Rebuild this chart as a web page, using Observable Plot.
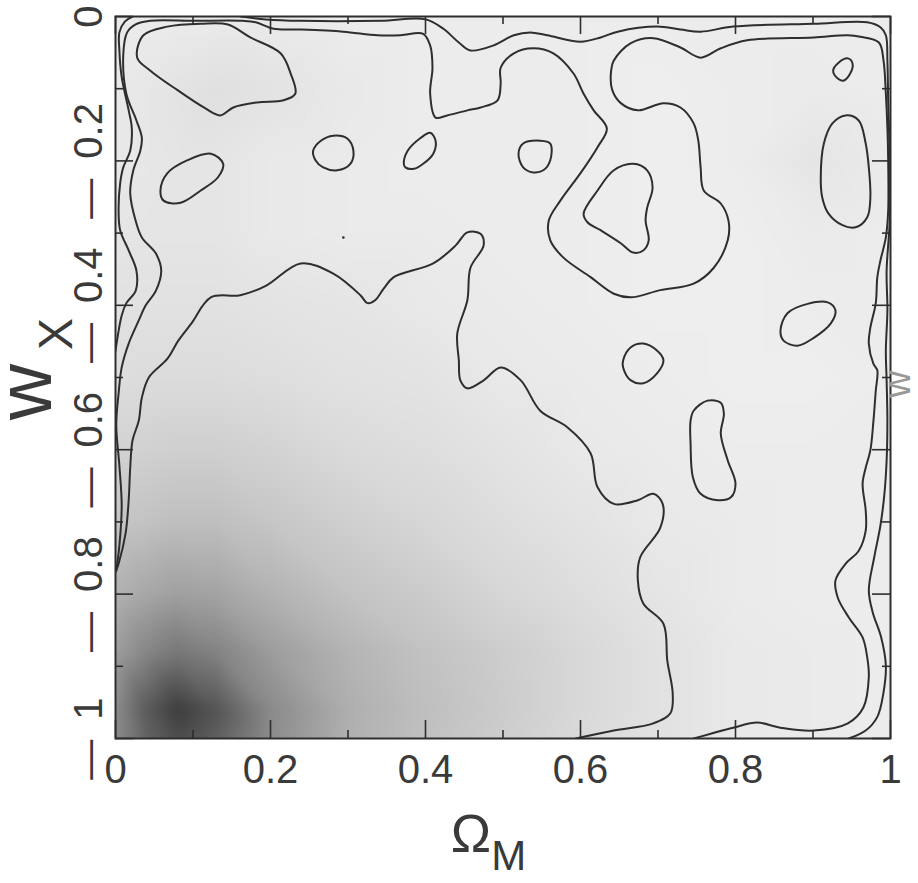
<!DOCTYPE html>
<html><head><meta charset="utf-8">
<script src="https://cdn.jsdelivr.net/npm/d3@7"></script>
<script src="https://cdn.jsdelivr.net/npm/@observablehq/plot@0.6"></script>
<style>html,body{margin:0;padding:0;background:#fff;}</style>
</head><body><div id="chart"></div>
<script>
// ---- data ----
const omegaGrid = [0, 0.04, 0.08, 0.13, 0.2, 0.3, 0.4, 0.5, 0.6, 0.7, 0.8, 0.9, 1];
const wGrid = [0, -0.1, -0.2, -0.3, -0.4, -0.5, -0.6, -0.7, -0.8, -0.88, -0.96, -1];
const density = [
  [.04,.03,.03,.03,.03,.02,.02,.02,.02,.02,.02,.02,.02],
  [.04,.05,.07,.09,.07,.04,.02,.02,.02,.01,.02,.03,.02],
  [.04,.05,.06,.06,.04,.03,.02,.02,.02,.01,.02,.06,.03],
  [.06,.06,.06,.06,.04,.03,.03,.02,.02,.01,.01,.03,.02],
  [.08,.08,.08,.08,.07,.06,.04,.03,.02,.01,.01,.02,.02],
  [.10,.11,.11,.11,.10,.08,.07,.04,.03,.02,.01,.01,.02],
  [.16,.17,.18,.18,.16,.12,.10,.07,.04,.03,.02,.02,.02],
  [.23,.25,.27,.27,.23,.18,.14,.10,.07,.04,.03,.02,.02],
  [.34,.40,.44,.42,.34,.25,.20,.14,.10,.06,.03,.02,.02],
  [.45,.58,.66,.60,.46,.33,.25,.19,.13,.08,.04,.03,.02],
  [.55,.82,.98,.85,.56,.36,.27,.20,.13,.08,.04,.03,.02],
  [.55,.78,.90,.80,.55,.35,.26,.19,.12,.08,.04,.03,.02]
];
const xMajor = [0, 0.2, 0.4, 0.6, 0.8, 1];
const xMinor = [0.1, 0.3, 0.5, 0.7, 0.9];
const yMajor = [0, -0.2, -0.4, -0.6, -0.8, -1];
const yMinor = [-0.1, -0.3, -0.5, -0.7, -0.9];
const xTickLabels = ["0", "0.2", "0.4", "0.6", "0.8", "1"];
const yTickLabels = ["0", "—\u20020.2", "—\u20020.4", "—\u20020.6", "—\u20020.8", "—\u20021"];

const innerContour = [[0,-0.770],[0.004,-0.758],[0.013,-0.716],[0.017,-0.670],[0.019,-0.625],[0.022,-0.587],[0.030,-0.560],[0.034,-0.528],[0.043,-0.500],[0.067,-0.474],[0.081,-0.449],[0.098,-0.425],[0.123,-0.389],[0.161,-0.386],[0.194,-0.373],[0.239,-0.342],[0.281,-0.356],[0.316,-0.386],[0.325,-0.397],[0.335,-0.393],[0.346,-0.377],[0.359,-0.361],[0.410,-0.342],[0.439,-0.317],[0.454,-0.299],[0.471,-0.301],[0.475,-0.317],[0.458,-0.348],[0.454,-0.393],[0.441,-0.439],[0.443,-0.476],[0.445,-0.504],[0.454,-0.515],[0.475,-0.504],[0.497,-0.486],[0.523,-0.504],[0.548,-0.546],[0.583,-0.569],[0.613,-0.605],[0.622,-0.652],[0.643,-0.675],[0.674,-0.670],[0.694,-0.661],[0.706,-0.675],[0.703,-0.708],[0.677,-0.749],[0.674,-0.781],[0.681,-0.813],[0.707,-0.841],[0.712,-0.892],[0.719,-0.938],[0.716,-0.965],[0.694,-0.979],[0.643,-0.989],[0.594,-1.0]];

const middleContour = [[0.746,-1.0],[0.797,-0.985],[0.828,-0.978],[0.858,-0.985],[0.901,-0.989],[0.945,-0.979],[0.965,-0.957],[0.972,-0.915],[0.970,-0.888],[0.964,-0.860],[0.946,-0.832],[0.932,-0.805],[0.929,-0.781],[0.942,-0.758],[0.959,-0.740],[0.968,-0.712],[0.968,-0.684],[0.964,-0.647],[0.968,-0.625],[0.974,-0.601],[0.978,-0.560],[0.981,-0.518],[0.983,-0.490],[0.978,-0.481],[0.972,-0.453],[0.974,-0.431],[0.981,-0.397],[0.983,-0.361],[0.987,-0.338],[0.994,-0.306],[0.997,-0.269],[0.997,-0.199],[0.996,-0.154],[0.994,-0.107],[0.991,-0.061],[0.985,-0.036],[0.961,-0.028],[0.945,-0.026],[0.901,-0.029],[0.815,-0.033],[0.781,-0.044],[0.755,-0.057],[0.729,-0.043],[0.694,-0.030],[0.665,-0.037],[0.643,-0.061],[0.639,-0.082],[0.641,-0.102],[0.652,-0.120],[0.674,-0.130],[0.707,-0.120],[0.729,-0.126],[0.746,-0.148],[0.752,-0.172],[0.755,-0.209],[0.759,-0.241],[0.781,-0.259],[0.791,-0.283],[0.790,-0.310],[0.772,-0.348],[0.746,-0.370],[0.703,-0.379],[0.665,-0.389],[0.643,-0.384],[0.613,-0.361],[0.578,-0.334],[0.561,-0.310],[0.559,-0.283],[0.574,-0.255],[0.600,-0.217],[0.622,-0.181],[0.634,-0.155],[0.617,-0.130],[0.604,-0.107],[0.591,-0.079],[0.565,-0.051],[0.539,-0.044],[0.514,-0.051],[0.497,-0.071],[0.497,-0.093],[0.493,-0.116],[0.471,-0.126],[0.454,-0.130],[0.428,-0.137],[0.413,-0.140],[0.406,-0.107],[0.409,-0.071],[0.406,-0.040],[0.397,-0.024],[0.368,-0.026],[0.338,-0.026],[0.294,-0.021],[0.239,-0.018],[0.204,-0.017],[0.181,-0.008],[0.165,-0.006],[0.101,-0.006],[0.045,-0.006],[0.026,-0.011],[0.015,-0.022],[0.010,-0.054],[0.014,-0.107],[0.027,-0.144],[0.034,-0.168],[0.032,-0.186],[0.023,-0.213],[0.019,-0.245],[0.026,-0.283],[0.034,-0.306],[0.052,-0.328],[0.059,-0.352],[0.052,-0.380],[0.039,-0.400],[0.030,-0.421],[0.017,-0.453],[0.008,-0.486],[0.004,-0.522],[0.001,-0.566],[0.005,-0.622],[0.008,-0.677],[0.005,-0.733],[0.001,-0.767]];

const outerContour = [[0.161,0],[0.194,-0.004],[0.239,-0.006],[0.342,-0.006],[0.400,-0.004],[0.423,-0.017],[0.443,-0.036],[0.458,-0.047],[0.488,-0.040],[0.514,-0.026],[0.535,-0.022],[0.557,-0.026],[0.600,-0.035],[0.626,-0.029],[0.648,-0.021],[0.699,-0.014],[0.729,-0.018],[0.755,-0.021],[0.797,-0.014],[0.901,-0.010],[0.970,-0.008],[0.987,-0.015],[0.994,-0.026],[0.996,-0.061],[0.997,-0.116],[0.999,-0.199],[0.999,-0.283],[0.995,-0.352],[0.996,-0.407],[0.994,-0.463],[0.995,-0.504],[0.996,-0.560],[0.995,-0.615],[0.992,-0.663],[0.987,-0.705],[0.979,-0.749],[0.972,-0.795],[0.977,-0.825],[0.988,-0.860],[0.994,-0.899],[0.991,-0.936],[0.983,-0.970],[0.968,-0.989],[0.946,-1.0]];

const outerLeftContour = [[0.022,0],[0.012,-0.007],[0.005,-0.022],[0.005,-0.047],[0.008,-0.084],[0.017,-0.130],[0.021,-0.154],[0.019,-0.186],[0.010,-0.209],[0.006,-0.231],[0.004,-0.269],[0.006,-0.296],[0.017,-0.324],[0.027,-0.352],[0.026,-0.380],[0.014,-0.397],[0.008,-0.414],[0.003,-0.442],[0,-0.463]];

const islands = [
  [[0.028,-0.057],[0.036,-0.026],[0.067,-0.014],[0.110,-0.010],[0.145,-0.011],[0.174,-0.029],[0.213,-0.051],[0.226,-0.079],[0.232,-0.107],[0.217,-0.116],[0.183,-0.119],[0.152,-0.126],[0.135,-0.137],[0.114,-0.126],[0.080,-0.102],[0.045,-0.075]],
  [[0.058,-0.241],[0.067,-0.217],[0.093,-0.199],[0.123,-0.190],[0.139,-0.204],[0.132,-0.223],[0.110,-0.241],[0.084,-0.258],[0.062,-0.255]],
  [[0.255,-0.186],[0.265,-0.172],[0.281,-0.165],[0.299,-0.169],[0.307,-0.186],[0.303,-0.204],[0.286,-0.213],[0.268,-0.209],[0.258,-0.199]],
  [[0.372,-0.204],[0.377,-0.186],[0.394,-0.168],[0.406,-0.161],[0.413,-0.172],[0.410,-0.190],[0.397,-0.204],[0.385,-0.211],[0.374,-0.209]],
  [[0.520,-0.190],[0.526,-0.176],[0.548,-0.172],[0.561,-0.176],[0.561,-0.199],[0.552,-0.213],[0.539,-0.216],[0.526,-0.209]],
  [[0.604,-0.273],[0.622,-0.241],[0.643,-0.213],[0.668,-0.204],[0.686,-0.213],[0.693,-0.237],[0.686,-0.265],[0.684,-0.283],[0.688,-0.310],[0.681,-0.324],[0.668,-0.327],[0.652,-0.314],[0.626,-0.296],[0.609,-0.285]],
  [[0.926,-0.075],[0.933,-0.064],[0.945,-0.058],[0.951,-0.065],[0.948,-0.079],[0.939,-0.089],[0.932,-0.086]],
  [[0.910,-0.223],[0.914,-0.176],[0.925,-0.148],[0.942,-0.137],[0.959,-0.144],[0.968,-0.176],[0.972,-0.209],[0.974,-0.251],[0.970,-0.278],[0.955,-0.292],[0.938,-0.289],[0.920,-0.273],[0.912,-0.251]],
  [[0.858,-0.435],[0.867,-0.411],[0.893,-0.398],[0.919,-0.396],[0.929,-0.407],[0.923,-0.425],[0.901,-0.445],[0.880,-0.456],[0.862,-0.449]],
  [[0.655,-0.476],[0.665,-0.458],[0.681,-0.453],[0.699,-0.463],[0.707,-0.476],[0.699,-0.494],[0.681,-0.508],[0.665,-0.504],[0.655,-0.486]],
  [[0.746,-0.546],[0.764,-0.532],[0.781,-0.535],[0.785,-0.550],[0.781,-0.578],[0.790,-0.615],[0.800,-0.647],[0.794,-0.666],[0.777,-0.670],[0.755,-0.661],[0.745,-0.638],[0.742,-0.591],[0.742,-0.560]]
];
const strayPoints = [[0.294, -0.306]];

// ---- build ----
const W = 918, H = 883, mL = 115, mR = 28, mT = 16, mB = 145;
const frameH = H - mT - mB, frameW = W - mL - mR;
const grid = wGrid.flatMap((w, i) => omegaGrid.map((o, j) => ({omega: o, w, density: density[i][j]})));
const islandRows = islands.flatMap((loop, id) => loop.map(([x, y]) => ({x, y, id})));
const font = "'Liberation Sans', Arial, sans-serif";
const ink = "#2e2e2e";
const textInk = "#3a3a3a";
const major = 18, minor = 8, lw = 2;

const plot = Plot.plot({
  width: W, height: H,
  marginLeft: mL, marginRight: mR, marginTop: mT, marginBottom: mB,
  style: {fontFamily: font, background: "transparent"},
  x: {domain: [0, 1], axis: null},
  y: {domain: [-1, 0], axis: null},
  color: {type: "linear", domain: [0, 1], range: ["#f0f0f0", "#3a3a3a"]},
  marks: [
    Plot.raster(grid, {x: "omega", y: "w", fill: "density", interpolate: "barycentric", x1: 0, x2: 1, y1: -1, y2: 0, blur: 3}),
    Plot.line(innerContour, {stroke: ink, strokeWidth: lw, curve: "catmull-rom", clip: true}),
    Plot.line(middleContour, {stroke: ink, strokeWidth: lw, curve: "catmull-rom", clip: true}),
    Plot.line(outerContour, {stroke: ink, strokeWidth: lw, curve: "catmull-rom", clip: true}),
    Plot.line(outerLeftContour, {stroke: ink, strokeWidth: lw, curve: "catmull-rom", clip: true}),
    Plot.line(islandRows, {x: "x", y: "y", z: "id", stroke: ink, strokeWidth: lw, curve: "catmull-rom-closed"}),
    Plot.dot(strayPoints, {r: 1.3, fill: ink, stroke: null}),
    // inward ticks on all four sides
    Plot.ruleX(xMajor, {x: d => d, insetTop: frameH - major, stroke: ink, strokeWidth: 1.6}),
    Plot.ruleX(xMinor, {x: d => d, insetTop: frameH - minor, stroke: ink, strokeWidth: 1.6}),
    Plot.ruleX(xMajor, {x: d => d, insetBottom: frameH - major, stroke: ink, strokeWidth: 1.6}),
    Plot.ruleX(xMinor, {x: d => d, insetBottom: frameH - minor, stroke: ink, strokeWidth: 1.6}),
    Plot.ruleY(yMajor, {y: d => d, insetRight: frameW - major, stroke: ink, strokeWidth: 1.6}),
    Plot.ruleY(yMinor, {y: d => d, insetRight: frameW - minor, stroke: ink, strokeWidth: 1.6}),
    Plot.ruleY(yMajor, {y: d => d, insetLeft: frameW - major, stroke: ink, strokeWidth: 1.6}),
    Plot.ruleY(yMinor, {y: d => d, insetLeft: frameW - minor, stroke: ink, strokeWidth: 1.6}),
    Plot.frame({stroke: ink, strokeWidth: 2}),
    // tick labels
    Plot.text(xMajor, {x: d => d, text: (d, i) => xTickLabels[i], frameAnchor: "bottom", dy: 32, fontSize: 40, fill: textInk, textAnchor: "middle", lineAnchor: "middle"}),
    Plot.text(yMajor, {y: d => d, text: (d, i) => yTickLabels[i], frameAnchor: "left", dx: -26, rotate: -90, fontSize: 40, fill: textInk, textAnchor: "middle", lineAnchor: "middle"})
  ]
});

const svg = d3.select(plot);
const xs = plot.scale("x"), ys = plot.scale("y");
// x-axis title  Ω_M
const xt = svg.append("text")
  .attr("x", xs.apply(0.5) - 14).attr("y", mT + frameH + 114)
  .attr("text-anchor", "middle").attr("fill", textInk)
  .style("font-family", font).style("font-size", "54px");
xt.append("tspan").text("Ω");
xt.append("tspan").attr("dy", 18).style("font-size", "42px").text("M");
// y-axis title  w_X (rotated)
const yt = svg.append("text")
  .attr("transform", `translate(51, ${ys.apply(-0.56)}) rotate(-90)`)
  .attr("text-anchor", "start").attr("fill", textInk)
  .style("font-family", font).style("font-size", "78px");
yt.append("tspan").text("w");
yt.append("tspan").attr("dy", 21).attr("dx", 14).style("font-size", "48px").text("X");
// clipped label of the neighbouring panel at the right edge
svg.append("text")
  .attr("transform", `translate(${mL + frameW + 20}, ${ys.apply(-0.51)}) rotate(-90)`)
  .attr("text-anchor", "middle").attr("fill", "#999")
  .style("font-family", font).style("font-size", "38px").text("w");

document.getElementById("chart").appendChild(plot);
</script>
</body></html>
